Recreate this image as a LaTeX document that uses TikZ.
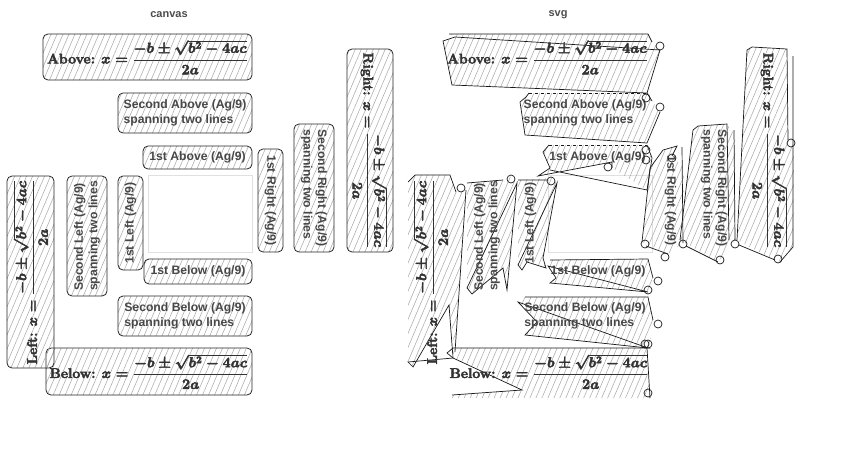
\documentclass[tikz,border=0pt]{standalone}
\usepackage{fontspec}
\newfontfamily\lblfont{Liberation Sans}
\usetikzlibrary{patterns.meta}
\tikzset{
  hatch/.style={pattern={Lines[angle=67,distance=5.5pt,line width=0.55pt]}, pattern color=black!33},
  box/.style={draw=black!85, line width=0.8pt, rounded corners=5pt, hatch, inner sep=0pt, outer sep=0pt},
  bare/.style={inner sep=0pt, outer sep=0pt},
  lbl/.style={font=\lblfont\bfseries\fontsize{12.2}{14.5}\selectfont, text=black!72, align=left},
  mth/.style={font=\fontsize{14}{17}\selectfont\boldmath, text=black!80},
  ttl/.style={font=\lblfont\bfseries\fontsize{11}{13}\selectfont, text=black!70},
  ghost/.style={draw=black!12, line width=0.8pt},
  rough/.style={hatch},
  edge/.style={draw=black!90, line width=0.7pt, line join=miter},
  curl/.style={draw=black!90, line width=0.7pt},
}
\newcommand\heavy[1]{\special{pdf:literal direct 2 Tr 0.45 w}#1\special{pdf:literal direct 0 Tr}}
\newcommand\qformula[1]{\heavy{\textbf{#1:} $\displaystyle x=\frac{-b\pm\sqrt{b^2-4ac}}{2a}$}}
\begin{document}
\begin{tikzpicture}[x=1pt,y=-1pt]
\useasboundingbox[fill=white] (0,0) rectangle (850,450);
% titles
\node[ttl] (tcanvas) at (169,15) {canvas};
\node[ttl] (tsvg) at (558,15) {svg};
% centre rectangles
\draw[ghost] (148,175) rectangle (252,252);
\draw[ghost] (548,175) rectangle (652,252);
% ---------- svg panel: rough shapes ----------
% Above
\fill[rough] (449,34) -- (648,34) -- (652,42) -- (660,50) -- (647,93) -- (452,85) -- (443,41) -- (455,37) -- cycle;
\draw[edge] (449,34) -- (648,34) -- (652,42) (660,50) -- (647,93) -- (452,85) -- (443,41) -- (455,37) -- cycle;
% Second Above
\fill[rough] (529,93) -- (647,93) -- (652,101) -- (660,112) -- (647,143) -- (525,135) -- (520,102) -- (526,97) -- cycle;
\draw[edge] (647,93) -- (652,101) (660,112) -- (647,143) -- (525,135) -- (520,102) -- (526,97) -- (529,93);
\draw[edge,dashed] (529,93) -- (647,93);
% 1st Above
\fill[rough] (549,145) -- (647,145) -- (652,158) -- (647,190) -- (612,168) -- (612,162) -- (538,176) -- (550,168) -- (543,152) -- cycle;
\draw[edge] (647,145) -- (652,158) -- (647,190) -- (550,170) (612,168) -- (612,162) -- (538,176) -- (550,168) -- (543,152) -- (549,145);
\draw[edge,dashed] (549,145) -- (647,145);
% 1st Right
\fill[rough] (663,150) -- (677,146) -- (672,156) -- (684,167) -- (683,243) -- (668,254) -- (642,242) -- (650,168) -- cycle;
\draw[edge] (663,150) -- (677,146) -- (672,156) (682,147) -- (683,243) (668,254) -- (646,246) (642,242) -- (650,168) -- (663,150);
% Second Right
\fill[rough] (693,130) -- (698,126) -- (727,124) -- (735,135) -- (735,240) -- (718,262) -- (680,240) -- cycle;
\draw[edge] (698,126) -- (727,124) -- (729,240) (734,130) -- (735,240) (718,262) -- (686,246) (680,240) -- (693,130) -- (698,126);
% Right
\fill[rough] (747,50) -- (752,47) -- (787,49) -- (788,140) -- (794,146) -- (793,247) -- (778,262) -- (737,240) -- cycle;
\draw[edge] (752,47) -- (787,49) -- (788,140) (793,56) -- (793,247) -- (780,262) (775,260) -- (739,245) (737,240) -- (747,50) -- (752,47);
% Left
\fill[rough] (408,182) -- (415,175) -- (450,175) -- (456,192) -- (466,190) -- (455,352) -- (449,305) -- (413,367) -- (408,362) -- cycle;
\draw[edge] (408,182) -- (415,175) -- (450,175) -- (456,192) (466,190) -- (455,352) (453,358) -- (449,305) -- (413,367) -- (408,362) -- cycle;
% Second Left
\fill[rough] (467,183) -- (503,180) -- (510,176) -- (517,183) -- (507,290) -- (503,268) -- (472,294) -- (467,288) -- cycle;
\draw[edge] (467,183) -- (503,180) (517,183) -- (507,290) -- (503,268) -- (472,294) -- (467,288) -- cycle;
% 1st Left
\fill[rough] (518,180) -- (552,178) -- (557,183) -- (543,258) -- (546,268) -- (527,262) -- (522,270) -- (518,265) -- cycle;
\draw[edge] (518,180) -- (548,180) (557,183) -- (543,258) -- (546,268) -- (527,262) -- (522,270) -- (518,265) -- cycle;
% 1st Below
\fill[rough] (550,260) -- (648,259) -- (653,278) -- (648,292) -- (550,283) -- (556,278) -- (548,266) -- cycle;
\draw[edge] (550,260) -- (648,259) -- (653,278) (648,292) -- (550,283) -- (556,278) -- (548,266) -- cycle;
% Second Below
\fill[rough] (525,297) -- (648,297) -- (653,320) -- (650,345) -- (648,348) -- (525,335) -- (537,322) -- (518,302) -- cycle;
\draw[edge] (525,297) -- (648,297) -- (653,320) (648,348) -- (525,335) -- (537,322) -- (518,302) -- cycle;
% Below
\fill[rough] (453,348) -- (647,348) -- (650,398) -- (452,398) -- (452,395) -- (522,390) -- (453,358) -- (447,353) -- cycle;
\draw[edge] (453,348) -- (647,348) -- (650,398) (452,395) -- (522,390) -- (453,358) -- (447,353) -- (453,348);
% ---------- boxes and labels, canvas (0) and svg (400) ----------
\foreach \dx/\sty in {0/box,400/bare}{
\begin{scope}[xshift=\dx pt]
  \node[\sty, mth, minimum width=209, minimum height=46] (above\dx) at (147.5,57) {\qformula{Above}};
  \node[\sty, lbl, minimum width=134, minimum height=40] (secabove\dx) at (185,113) {Second Above (Ag/9)\\spanning two lines};
  \node[\sty, lbl, minimum width=109, minimum height=23] (firstabove\dx) at (197.5,157.5) {1st Above (Ag/9)};
  \node[\sty, lbl, minimum width=108, minimum height=25] (firstbelow\dx) at (198,271.5) {1st Below (Ag/9)};
  \node[\sty, lbl, minimum width=134, minimum height=40] (secbelow\dx) at (185,316) {Second Below (Ag/9)\\spanning two lines};
  \node[\sty, mth, minimum width=206, minimum height=47] (below\dx) at (149,371.5) {\qformula{Below}};
  \node[\sty, mth, rotate=90, minimum width=192, minimum height=47] (left\dx) at (30.5,272) {\qformula{Left}};
  \node[\sty, lbl, rotate=90, minimum width=120, minimum height=40] (secleft\dx) at (87,236) {Second Left (Ag/9)\\spanning two lines};
  \node[\sty, lbl, rotate=90, minimum width=94, minimum height=25] (firstleft\dx) at (130.5,223) {1st Left (Ag/9)};
  \node[\sty, lbl, rotate=-90, minimum width=103, minimum height=25] (firstright\dx) at (270.5,200.5) {1st Right (Ag/9)};
  \node[\sty, lbl, rotate=-90, minimum width=128, minimum height=40] (secright\dx) at (314,188) {Second Right (Ag/9)\\spanning two lines};
  \node[\sty, mth, rotate=-90, minimum width=203, minimum height=46] (right\dx) at (370,150.5) {\qformula{Right}};
\end{scope}
}
% curls on the svg shapes
\foreach \cx/\cy in {660/46, 660/107, 646/98, 646/150, 646/160, 608/167, 672/158, 645/244, 665/257,
  683/244, 720/260, 735/244, 778/259, 791/143, 461/188, 511/179, 551/181, 658/281, 648/290,
  658/324, 648/344, 645/344, 648/393}
  \draw[curl] (\cx,\cy) circle[radius=4];
\end{tikzpicture}
\end{document}
